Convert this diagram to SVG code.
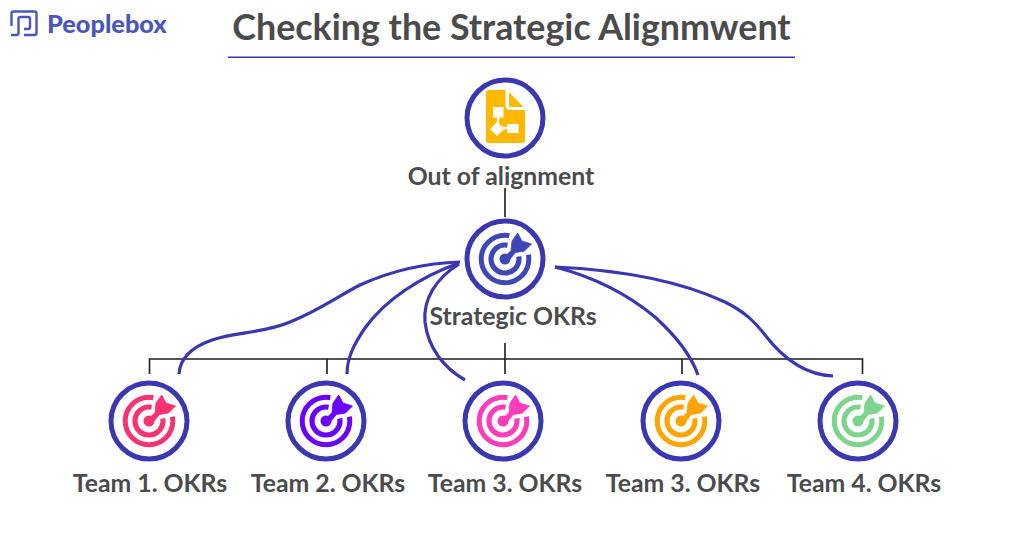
<svg xmlns="http://www.w3.org/2000/svg" width="1024" height="536" viewBox="0 0 1024 536">
<style>
.ring{fill:#fff;stroke:#3a38b0;stroke-width:5}
.lbl{font-family:"Lato","Liberation Sans",sans-serif;font-weight:700;font-size:24.800px;fill:#4b4b4d;text-anchor:middle}
.tree{fill:none;stroke:#1c1c1c;stroke-width:1.6}
.cv{fill:none;stroke:#3a38b0;stroke-width:3.2;stroke-linecap:butt}
</style>
<defs>
<g id="target">
<circle r="23.800" fill="none" stroke="currentColor" stroke-width="5"/>
<circle r="14" fill="none" stroke="currentColor" stroke-width="5.200"/>
<path d="M0 0L5-27L18-26L27-18L27-5Z" fill="#fff"/>
<circle r="5.500" fill="currentColor"/>
<path d="M-2.500 0L6-8.500L7-18L12.700-26L17-18L26.500-15L19.500-8L10.500-6.500L2.500 3Z" fill="currentColor" stroke="currentColor" stroke-width="0.800" stroke-linejoin="round"/>
</g>
</defs>
<rect width="1024" height="536" fill="#fff"/>
<g id="logo">
<path d="M11.500 26V13.500Q11.500 11.500 13.500 11.500H34.500Q36.500 11.500 36.500 13.500V33Q36.500 35 34.500 35H24M11 35H16.500Q18.500 35 18.500 33V19Q18.500 17 20.500 17H28Q30 17 30 19V27Q30 29 28 29H24" fill="none" stroke="#4a56bd" stroke-width="2.400"/>
<text x="47" y="33" font-family="Lato,'Liberation Sans',sans-serif" font-size="25.300" font-weight="900" fill="#4a56bd">Peoplebox</text>
</g>
<g id="title">
<text x="511.500" y="40" text-anchor="middle" font-family="Lato,'Liberation Sans',sans-serif" font-size="35.800" font-weight="700" fill="#4b4b4d">Checking the Strategic Alignmwent</text>
<rect x="228" y="56.500" width="567" height="1.500" fill="#3a38b0"/>
</g>
<g id="connectors">
<path class="tree" d="M505 188V217M505 343V374M149.500 374V359H862.500V374M327 359V374M682 359V374"/>
<path class="cv" d="M460 262C425 263 393 270 360 285C340 295 320 310 290 322C265 333 235 332 212 340C192 347 180 358 179 374"/>
<path class="cv" d="M459 263C420 277 385 300 365 328C354 344 347 358 347 374"/>
<path class="cv" d="M459 264C435 279 423 300 425 322C428 348 444 368 465 380"/>
<path class="cv" d="M555 267C590 276 625 292 655 317C677 337 691 355 698 375"/>
<path class="cv" d="M555 267C620 270 680 281 725 302C745 312 755 322 765 335C782 357 805 375 833 376"/>
</g>
<g id="out-of-alignment">
<circle class="ring" cx="505" cy="118" r="38"/>
<path d="M489 90H505.500V105Q505.500 110 511 110H525V140Q525 143 522 143H489Q486 143 486 140V93Q486 90 489 90Z" fill="#ffb900"/>
<path d="M509 92L523.500 107H511.500Q509 107 509 104.500Z" fill="#ffb900"/>
<path d="M493 107H503.500V117.500H493ZM490 129L497 122L504 129L497 136ZM507.500 124H518.500V133H507.500Z" fill="#fff"/>
<path d="M498 116V128H509" fill="none" stroke="#fff" stroke-width="2.400"/>
<text class="lbl" x="501" y="185">Out of alignment</text>
</g>
<g id="strategic" color="#3f47b5">
<circle class="ring" cx="505" cy="259" r="38"/>
<use href="#target" x="505" y="259"/>
<text class="lbl" x="513" y="325">Strategic OKRs</text>
</g>
<g id="team1" color="#f83371">
<circle class="ring" cx="149" cy="421" r="38"/>
<use href="#target" x="149" y="421"/>
<text class="lbl" x="150" y="492">Team 1. OKRs</text>
</g>
<g id="team2" color="#6a00ff">
<circle class="ring" cx="326" cy="421" r="38"/>
<use href="#target" x="326" y="421"/>
<text class="lbl" x="328" y="492">Team 2. OKRs</text>
</g>
<g id="team3a" color="#ff3dbb">
<circle class="ring" cx="503" cy="421" r="38"/>
<use href="#target" x="503" y="421"/>
<text class="lbl" x="505" y="492">Team 3. OKRs</text>
</g>
<g id="team3b" color="#ffa400">
<circle class="ring" cx="681" cy="421" r="38"/>
<use href="#target" x="681" y="421"/>
<text class="lbl" x="683" y="492">Team 3. OKRs</text>
</g>
<g id="team4" color="#7ed48e">
<circle class="ring" cx="858" cy="421" r="38"/>
<use href="#target" x="858" y="421"/>
<text class="lbl" x="864" y="492">Team 4. OKRs</text>
</g>
</svg>
